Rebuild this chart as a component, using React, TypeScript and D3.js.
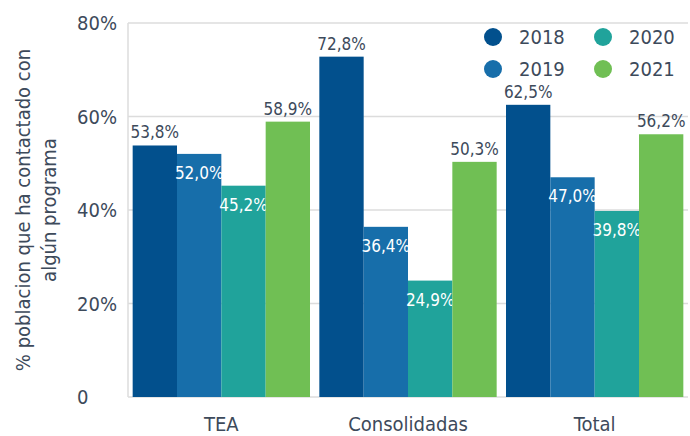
import React from "react";
import * as d3 from "d3";

const categories = ["TEA", "Consolidadas", "Total"];
const years = ["2018", "2019", "2020", "2021"];
const values2018 = [53.8, 72.8, 62.5];
const values2019 = [52.0, 36.4, 47.0];
const values2020 = [45.2, 24.9, 39.8];
const values2021 = [58.9, 50.3, 56.2];
const yTicks = [0, 20, 40, 60, 80];
const yTickLabels = ["0", "20%", "40%", "60%", "80%"];
const colors = ["#02508d", "#176eaa", "#20a39b", "#70bf54"];
const labelInside = [false, true, true, false];

const W = 690, H = 436;
const margin = { left: 128, right: 2, top: 23, bottom: 39 };
const FONT = "'Liberation Sans Narrow', 'DejaVu Sans Condensed', Roboto, sans-serif";
const TEXT = "#3d4a5b";

export default function App() {
  const series = [values2018, values2019, values2020, values2021];
  const x0 = d3.scaleBand<string>().domain(categories)
    .range([margin.left, W - margin.right]).paddingInner(0.05).paddingOuter(0.025);
  const x1 = d3.scaleBand<string>().domain(years).range([0, x0.bandwidth()]).padding(0);
  const y = d3.scaleLinear().domain([0, 80]).range([H - margin.bottom, margin.top]);
  const fmt = (v: number) => v.toFixed(1).replace(".", ",") + "%";

  return (
    <svg width={W} height={H} style={{ position: "absolute", left: 0, top: 0, fontFamily: FONT }}>
      {yTicks.map((t) => (
        <line key={t} x1={margin.left} x2={W - 2} y1={y(t)} y2={y(t)} stroke="#dcdcdc" strokeWidth={1.5} />
      ))}
      <line x1={margin.left} x2={margin.left} y1={y(80)} y2={y(0)} stroke="#dcdcdc" strokeWidth={1.5} />
      {yTicks.map((t, i) => (
        <text key={t} x={77} y={y(t)} dy="0.36em" fontSize={20} fill={TEXT}>{yTickLabels[i]}</text>
      ))}
      <text transform={`translate(30, ${(y(0) + y(80)) / 2}) rotate(-90)`} textAnchor="middle" fontSize={20} fill={TEXT}>
        <tspan x={0} dy="0">% poblacion que ha contactado con</tspan>
        <tspan x={0} dy="1.3em">algún programa</tspan>
      </text>
      {categories.map((c, ci) => (
        <g key={c}>
          {years.map((yr, si) => {
            const v = series[si][ci];
            const bx = (x0(c) as number) + (x1(yr) as number);
            const bw = x1.bandwidth();
            return (
              <g key={yr}>
                <rect x={bx} y={y(v)} width={bw} height={y(0) - y(v)} fill={colors[si]} />
                <text x={bx + bw / 2} y={labelInside[si] ? y(v) + 25 : y(v) - 7} textAnchor="middle" fontSize={17}
                  fill={labelInside[si] ? "#ffffff" : TEXT}>{fmt(v)}</text>
              </g>
            );
          })}
          <text x={(x0(c) as number) + x0.bandwidth() / 2} y={431} textAnchor="middle" fontSize={20} fill={TEXT}>{c}</text>
        </g>
      ))}
      {years.map((yr, i) => {
        const lx = i < 2 ? 493 : 603;
        const ly = i % 2 === 0 ? 37 : 69;
        return (
          <g key={yr}>
            <circle cx={lx} cy={ly} r={9} fill={colors[i]} />
            <text x={lx + 26} y={ly} dy="0.36em" fontSize={20} fill={TEXT}>{yr}</text>
          </g>
        );
      })}
    </svg>
  );
}
